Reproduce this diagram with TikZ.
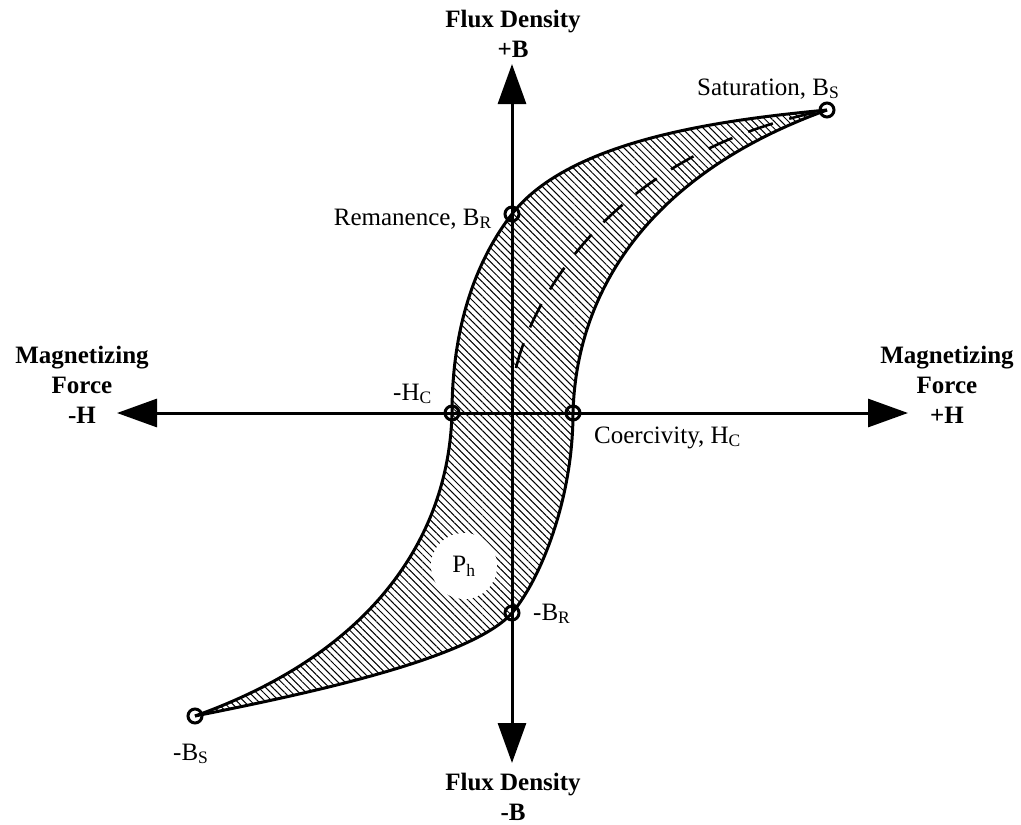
\documentclass[tikz,border=0pt]{standalone}
\usepackage{fontspec}
\setmainfont{Liberation Serif}
\usetikzlibrary{arrows.meta,patterns.meta}
\begin{document}
\begin{tikzpicture}[x=1pt,y=-1pt,
  curve/.style={line width=3pt, line join=round},
  axisline/.style={line width=3pt, {Triangle[length=40pt,width=28pt]}-{Triangle[length=40pt,width=28pt]}},
  pt/.style={circle, draw, line width=3pt, minimum size=14pt, inner sep=0pt},
  lbl/.style={font=\fontsize{25}{30}\selectfont, inner sep=0pt},
  axlbl/.style={font=\fontsize{25}{30}\selectfont\bfseries, align=center, inner sep=0pt},
  hatch/.style={pattern={Lines[angle=-45,distance=5pt,line width=1pt]}},
  initial/.style={line width=2.6pt, dash pattern=on 26pt off 17pt},
  phbox/.style={circle, fill=white, minimum size=66pt, inner sep=0pt, font=\fontsize{25}{30}\selectfont}
]
\useasboundingbox (0,0) rectangle (1021,825);

% key points
\coordinate (o) at (512,413);
\coordinate (bs) at (827,110);
\coordinate (nbs) at (195,716);
\coordinate (br) at (512,214);
\coordinate (nbr) at (512,613);
\coordinate (hc) at (573,413);
\coordinate (nhc) at (452,413);
\coordinate (ds) at (516,368);
\coordinate (htl) at (117,413);
\coordinate (htr) at (908,413);
\coordinate (vtt) at (512,64);
\coordinate (vtb) at (512,763);

% hatched loop area
\fill[hatch] (bs) .. controls (720,120) and (570,140) .. (br)
  .. controls (480,255) and (452,320) .. (nhc)
  .. controls (449,530) and (380,650) .. (nbs)
  .. controls (300,695) and (470,660) .. (nbr)
  .. controls (540,580) and (573,500) .. (hc)
  .. controls (576,296) and (644,176) .. (bs) -- cycle;

\node[phbox] (ph) at (464,566) {P\textsubscript{h}};

% initial magnetization curve
\draw[initial] (ds) .. controls (535,290) and (620,150) .. (bs);

% axes
\draw[axisline] (htl) -- (htr);
\draw[axisline] (vtb) -- (vtt);

% hysteresis branches
\draw[curve] (bs) .. controls (720,120) and (570,140) .. (br)
  .. controls (480,255) and (452,320) .. (nhc)
  .. controls (449,530) and (380,650) .. (nbs);
\draw[curve] (nbs) .. controls (300,695) and (470,660) .. (nbr)
  .. controls (540,580) and (573,500) .. (hc)
  .. controls (576,296) and (644,176) .. (bs);

% marked points
\node[pt] (pbs) at (bs) {};
\node[pt] (pnbs) at (nbs) {};
\node[pt] (pbr) at (br) {};
\node[pt] (pnbr) at (nbr) {};
\node[pt] (phc) at (hc) {};
\node[pt] (pnhc) at (nhc) {};

% point labels
\node[lbl, anchor=base west] (lsat) at (697,95) {Saturation, B\textsubscript{S}};
\node[lbl, anchor=base east] (lrem) at (492,225) {Remanence, B\textsubscript{R}};
\node[lbl, anchor=base west] (lnhc) at (393,400) {-H\textsubscript{C}};
\node[lbl, anchor=base west] (lhc) at (594,443) {Coercivity, H\textsubscript{C}};
\node[lbl, anchor=base west] (lnbr) at (533,620) {-B\textsubscript{R}};
\node[lbl, anchor=base west] (lnbs) at (173,760) {-B\textsubscript{S}};

% axis labels
\node[axlbl, anchor=north] (ltop) at (513,10) {Flux Density\\+B};
\node[axlbl, anchor=north] (lbot) at (513,773) {Flux Density\\-B};
\node[axlbl, anchor=north] (lleft) at (82,346) {Magnetizing\\Force\\-H};
\node[axlbl, anchor=north] (lright) at (947,346) {Magnetizing\\Force\\+H};
\end{tikzpicture}
\end{document}
